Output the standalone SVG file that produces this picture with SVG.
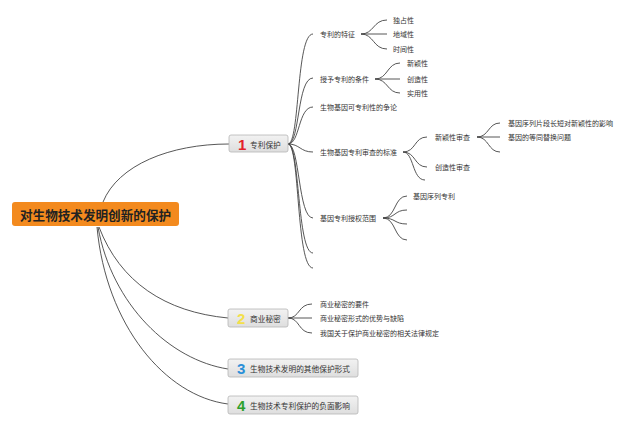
<svg xmlns="http://www.w3.org/2000/svg" width="640" height="426" viewBox="0 0 640 426">
<defs>
<linearGradient id="g" x1="0" y1="0" x2="0" y2="1"><stop offset="0" stop-color="#f2f2f2"/><stop offset="1" stop-color="#dedede"/></linearGradient>
</defs>
<style>
.c{fill:none;stroke:#444;stroke-width:0.9}
.t{font-family:"Noto Sans CJK SC","Noto Sans",sans-serif;font-size:7px;fill:#333;dominant-baseline:central}
.n{fill:url(#g);stroke:#b5b5b5;stroke-width:0.8}
.nl{font-family:"Noto Sans CJK SC","Noto Sans",sans-serif;font-size:7.7px;fill:#333;dominant-baseline:central}
.num{font-family:"Liberation Sans",Arial,sans-serif;font-size:15px;font-weight:bold;dominant-baseline:central}
</style>
<rect width="640" height="426" fill="#fff"/>
<g id="connectors">
<path class="c" d="M103,202 C118,165 170,144 229,144"/>
<path class="c" d="M99,227 C120,282 165,312 228,318"/>
<path class="c" d="M98,227 C112,305 170,360 228,369"/>
<path class="c" d="M97,227 C106,325 165,396 228,404"/>
<path class="c" d="M288,144 C300,144 296,34 313,34"/>
<path class="c" d="M288,144 C300,144 297,78 313,78"/>
<path class="c" d="M288,144 C300,144 298,107 313,107"/>
<path class="c" d="M288,144 C300,144 300,152 313,152"/>
<path class="c" d="M288,144 C300,144 298,218 313,218"/>
<path class="c" d="M288,144 C300,144 297,253 313,253"/>
<path class="c" d="M288,144 C300,144 296,268 313,268"/>
<path class="c" d="M361,34 C374,34 373,20 387,20"/>
<path class="c" d="M361,34 L387,34"/>
<path class="c" d="M361,34 C374,34 373,49 387,49"/>
<path class="c" d="M375,79 C388,79 387,63 400,63"/>
<path class="c" d="M375,79 L400,79"/>
<path class="c" d="M375,79 C388,79 387,93 400,93"/>
<path class="c" d="M403,152 C416,152 414,137 427,137"/>
<path class="c" d="M403,152 C416,152 414,167 427,167"/>
<path class="c" d="M403,152 C414,152 412,180 425,180"/>
<path class="c" d="M477,137 C489,137 488,123 500,123"/>
<path class="c" d="M477,137 L500,137"/>
<path class="c" d="M477,137 C489,137 488,152 500,152"/>
<path class="c" d="M383,218 C396,218 394,196 407,196"/>
<path class="c" d="M383,218 C396,218 394,210 407,210"/>
<path class="c" d="M383,218 C396,218 394,224 407,224"/>
<path class="c" d="M383,218 C396,218 394,240 407,240"/>
<path class="c" d="M288,318 C300,318 298,304 312,304"/>
<path class="c" d="M288,318 L312,318"/>
<path class="c" d="M288,318 C300,318 298,333 312,333"/>
</g>
<g id="root">
<rect x="12" y="202" width="167" height="24" rx="3" fill="#f38a1e"/>
<text x="95.5" y="214" text-anchor="middle" style="font-family:'Noto Sans CJK SC',sans-serif;font-size:12.6px;font-weight:bold;fill:#222;dominant-baseline:central">对生物技术发明创新的保护</text>
</g>
<g id="node1">
<rect class="n" x="229" y="135" width="59" height="17" rx="2"/>
<text class="num" x="238" y="144" fill="#e3202a">1</text>
<text class="nl" x="250" y="144">专利保护</text>
</g>
<g id="node2">
<rect class="n" x="228" y="309" width="60" height="18" rx="2"/>
<text class="num" x="237" y="318" fill="#f3e04a">2</text>
<text class="nl" x="250" y="318">商业秘密</text>
</g>
<g id="node3">
<rect class="n" x="228" y="359" width="130" height="18" rx="2"/>
<text class="num" x="237" y="368" fill="#2a8fd8">3</text>
<text class="nl" x="250" y="368">生物技术发明的其他保护形式</text>
</g>
<g id="node4">
<rect class="n" x="228" y="396" width="130" height="18" rx="2"/>
<text class="num" x="237" y="405" fill="#2ca02c">4</text>
<text class="nl" x="250" y="405">生物技术专利保护的负面影响</text>
</g>
<g id="n1a"><text class="t" x="320" y="34">专利的特征</text></g>
<g id="n1a1"><text class="t" x="393" y="20">独占性</text></g>
<g id="n1a2"><text class="t" x="393" y="34">地域性</text></g>
<g id="n1a3"><text class="t" x="393" y="49">时间性</text></g>
<g id="n1b"><text class="t" x="320" y="79">授予专利的条件</text></g>
<g id="n1b1"><text class="t" x="407" y="63">新颖性</text></g>
<g id="n1b2"><text class="t" x="407" y="79">创造性</text></g>
<g id="n1b3"><text class="t" x="407" y="93">实用性</text></g>
<g id="n1c"><text class="t" x="320" y="107">生物基因可专利性的争论</text></g>
<g id="n1d"><text class="t" x="320" y="152">生物基因专利审查的标准</text></g>
<g id="n1d1"><text class="t" x="435" y="137">新颖性审查</text></g>
<g id="n1d1a"><text class="t" x="508" y="123">基因序列片段长短对新颖性的影响</text></g>
<g id="n1d1b"><text class="t" x="508" y="137">基因的等同替换问题</text></g>
<g id="n1d2"><text class="t" x="435" y="167">创造性审查</text></g>
<g id="n1e"><text class="t" x="320" y="218">基因专利授权范围</text></g>
<g id="n1e1"><text class="t" x="413" y="196">基因序列专利</text></g>
<g id="n2a"><text class="t" x="320" y="304">商业秘密的要件</text></g>
<g id="n2b"><text class="t" x="320" y="318">商业秘密形式的优势与缺陷</text></g>
<g id="n2c"><text class="t" x="320" y="333">我国关于保护商业秘密的相关法律规定</text></g>
</svg>
